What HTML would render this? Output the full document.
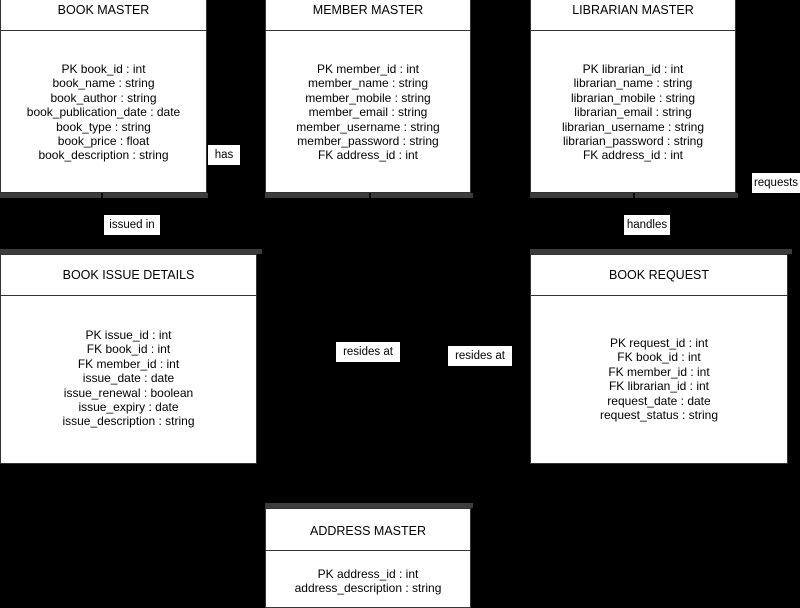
<!DOCTYPE html>
<html><head><style>
body{margin:0;width:800px;height:600px;background:#000;position:relative;overflow:hidden;font-family:"Liberation Sans",Arial,sans-serif;font-size:12px;color:#000}
.b{position:absolute;background:#fff;border:1px solid #333;box-sizing:border-box}
.h{height:30px;line-height:30px;text-align:center;border-bottom:1px solid #333;font-size:12.5px}
.f{text-align:center;line-height:14.4px}
.s{position:absolute;background:#3c3c3c;height:5px}
.l{position:absolute;background:#fff;text-align:center;font-size:11.5px;line-height:20px}
.v{position:absolute;background:#000;width:2px}
</style></head><body>
<div class="b" style="left:0;top:-1px;width:207px;height:194px"><div class="h" style="line-height:20px">BOOK MASTER</div><div class="f" style="padding-top:31px">PK book_id : int<br>book_name : string<br>book_author : string<br>book_publication_date : date<br>book_type : string<br>book_price : float<br>book_description : string</div></div>
<div class="b" style="left:265px;top:-1px;width:206px;height:194px"><div class="h" style="line-height:20px">MEMBER MASTER</div><div class="f" style="padding-top:31px">PK member_id : int<br>member_name : string<br>member_mobile : string<br>member_email : string<br>member_username : string<br>member_password : string<br>FK address_id : int</div></div>
<div class="b" style="left:530px;top:-1px;width:206px;height:194px"><div class="h" style="line-height:20px">LIBRARIAN MASTER</div><div class="f" style="padding-top:31px">PK librarian_id : int<br>librarian_name : string<br>librarian_mobile : string<br>librarian_email : string<br>librarian_username : string<br>librarian_password : string<br>FK address_id : int</div></div>
<div class="b" style="left:0;top:254px;width:257px;height:210px"><div class="h" style="height:40px;line-height:40px">BOOK ISSUE DETAILS</div><div class="f" style="padding-top:32px">PK issue_id : int<br>FK book_id : int<br>FK member_id : int<br>issue_date : date<br>issue_renewal : boolean<br>issue_expiry : date<br>issue_description : string</div></div>
<div class="b" style="left:530px;top:254px;width:258px;height:210px"><div class="h" style="height:40px;line-height:40px">BOOK REQUEST</div><div class="f" style="padding-top:40px">PK request_id : int<br>FK book_id : int<br>FK member_id : int<br>FK librarian_id : int<br>request_date : date<br>request_status : string</div></div>
<div class="b" style="left:265px;top:508px;width:206px;height:100px"><div class="h" style="height:41px;line-height:44px">ADDRESS MASTER</div><div class="f" style="padding-top:16px">PK address_id : int<br>address_description : string</div></div>
<div class="s" style="left:0;top:193px;width:208px"></div>
<div class="s" style="left:265px;top:193px;width:208px"></div>
<div class="s" style="left:530px;top:193px;width:208px"></div>
<div class="s" style="left:0;top:249px;width:262px"></div>
<div class="s" style="left:530px;top:249px;width:262px"></div>
<div class="s" style="left:265px;top:503px;width:208px"></div>
<div class="v" style="left:101px;top:193px;height:6px"></div>
<div class="v" style="left:369px;top:193px;height:6px"></div>
<div class="v" style="left:633px;top:193px;height:6px"></div>
<div class="l" style="left:208px;top:145px;width:32px">has</div>
<div class="l" style="left:104px;top:215px;width:56px">issued in</div>
<div class="l" style="left:752px;top:173px;width:48px">requests</div>
<div class="l" style="left:624px;top:215px;width:46px">handles</div>
<div class="l" style="left:336px;top:342px;width:64px">resides at</div>
<div class="l" style="left:448px;top:346px;width:64px">resides at</div>
</body></html>
